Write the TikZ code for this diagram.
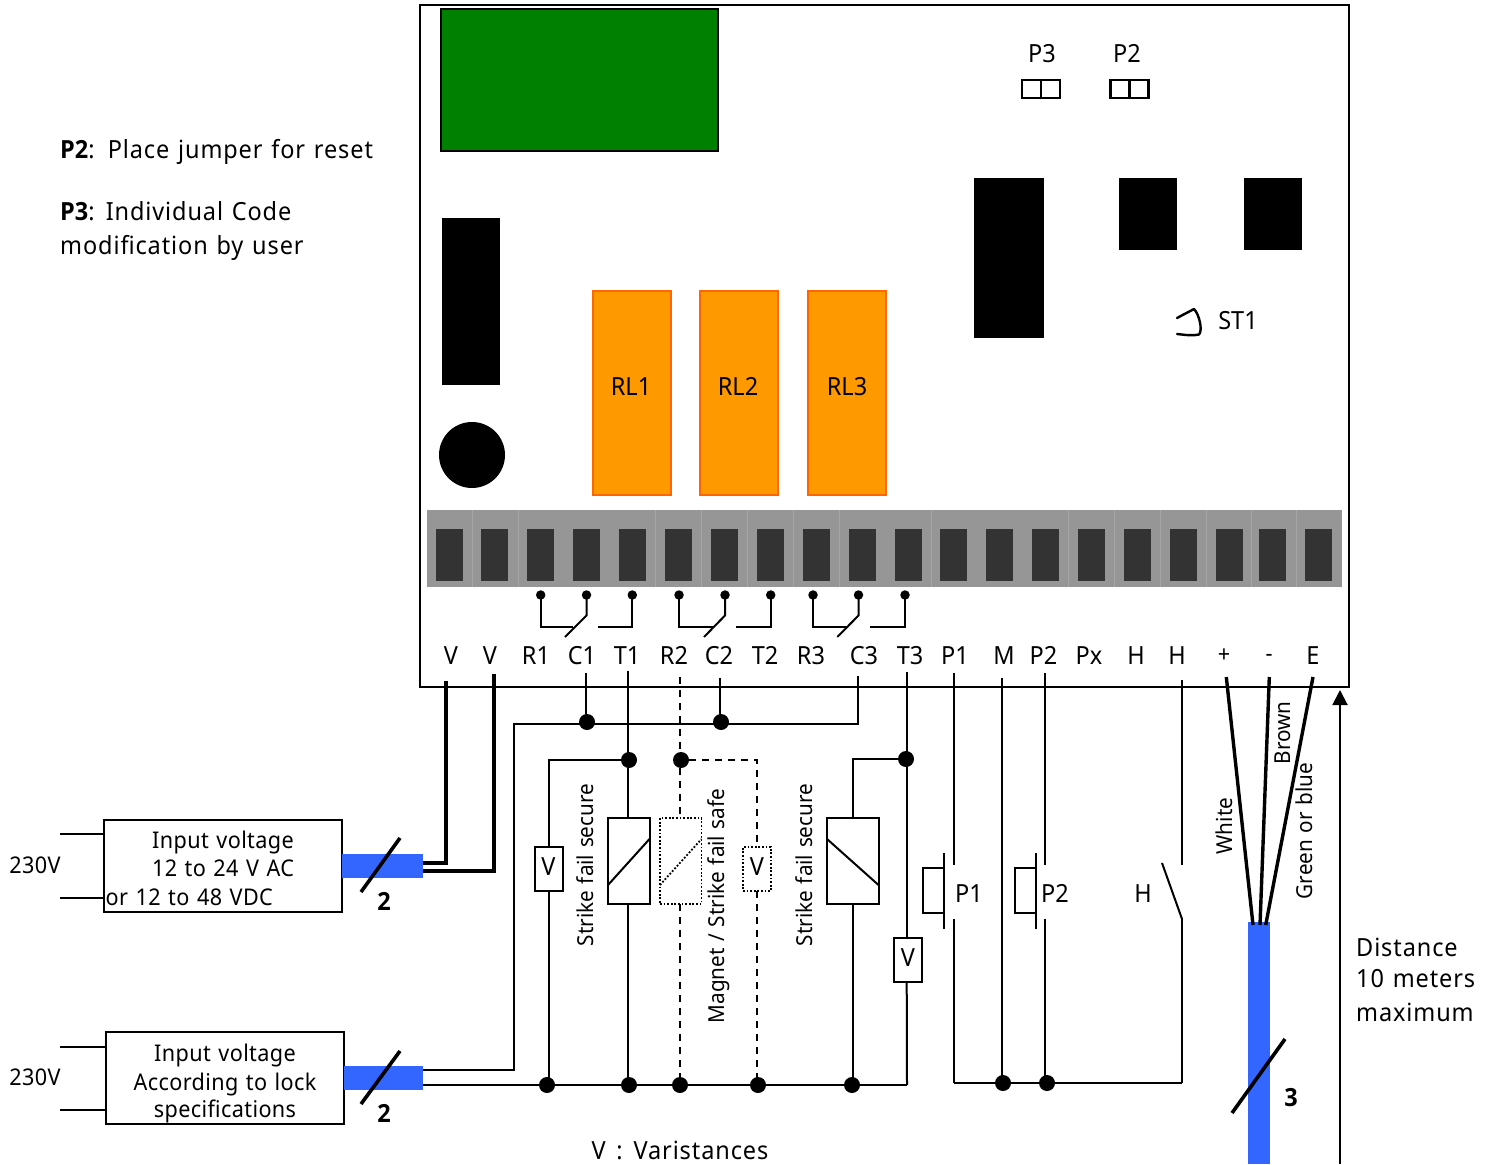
\documentclass[tikz,border=0pt]{standalone}
\usepackage{fontspec}
\setmainfont{Noto Sans}[FakeStretch=0.94,WordSpace=1.25]
\newfontfamily\widefont{Noto Sans}[FakeStretch=0.94,WordSpace=1.25,LetterSpace=3.6]
\newfontfamily\midfont{Noto Sans}[FakeStretch=0.94,WordSpace=1.25,LetterSpace=1.7]
\newfontfamily\boldfont{Open Sans}[FakeStretch=0.94,WordSpace=1.25]
\usetikzlibrary{arrows.meta}
\definecolor{cable}{HTML}{3366FF}
\definecolor{relay}{HTML}{FF9900}
\definecolor{relayedge}{HTML}{FF6600}
\definecolor{boardgreen}{HTML}{008000}
\definecolor{stripgray}{HTML}{969696}
\definecolor{stripsep}{HTML}{A6A6A6}
\definecolor{termdark}{HTML}{333333}
\newcommand{\bx}[6][]{\node[rectangle,inner sep=0pt,outer sep=0pt,minimum width={(#5-#3)*1pt},minimum height={(#6-#4)*1pt},#1] (#2) at ({(#3+#5)/2},{(#4+#6)/2}) {};}
\newcommand{\bt}[7][]{\node[rectangle,inner sep=0pt,outer sep=0pt,minimum width={(#5-#3)*1pt},minimum height={(#6-#4)*1pt},#1] (#2) at ({(#3+#5)/2},{(#4+#6)/2}) {#7};}
\tikzset{
  wire/.style={line width=2pt},
  thickwire/.style={line width=3.4pt},
  dashwire/.style={line width=2pt,dash pattern=on 7pt off 6pt},
  frame/.style={draw=black,line width=2pt,fill=white},
  thinframe/.style={draw=black,line width=2pt},
  jumperbox/.style={draw=black,line width=2.4pt},
  dotframe/.style={draw=black,line width=1.8pt,dash pattern=on 1.8pt off 1.8pt,fill=white},
  solidblock/.style={fill=black},
  relaybox/.style={fill=relay,draw=relayedge,line width=2pt},
  bluecable/.style={fill=cable},
  termbox/.style={fill=termdark},
  pindot/.style={circle,fill=black,inner sep=0pt,minimum size=9.5pt},
  junction/.style={circle,fill=black,inner sep=0pt,minimum size=16pt},
  lbl/.style={inner sep=0pt,anchor=base,font=\fontsize{25}{28}\selectfont},
  wide/.style={inner sep=0pt,font=\fontsize{25}{28}\selectfont\widefont},
  smalltxt/.style={inner sep=0pt,font=\fontsize{23}{26}\selectfont\midfont},
  rottxt/.style={inner sep=0pt,rotate=90,font=\fontsize{22}{25}\selectfont},
  counttxt/.style={inner sep=0pt,font=\fontsize{25}{28}\selectfont\boldfont\bfseries},
  slashline/.style={line width=3.6pt},
  vbox/.style={font=\fontsize{25}{28}\selectfont},
}
\newcommand{\varV}{\raisebox{4.5pt}{V}}
\begin{document}
\begin{tikzpicture}[x=1pt,y=-1pt]
\useasboundingbox (0,0) rectangle (1490,1164);
% board
\bx[frame]{board}{419.5}{5}{1349}{687}
\bx[fill=boardgreen,draw=black,line width=2pt]{green}{441}{9.5}{718}{151}
\bx[solidblock]{blkA}{442}{218}{500}{385}
\node[circle,fill=black,inner sep=0pt,minimum size=66pt] (blkC) at (472,455) {};
\bx[solidblock]{blkB}{974}{178}{1044}{338}
\bx[solidblock]{blkD}{1119}{178}{1177}{250}
\bx[solidblock]{blkE}{1244}{178}{1302}{250}
\bx[relaybox]{rlA}{593}{291}{671}{495}
\bx[relaybox]{rlB}{700}{291}{778}{495}
\bx[relaybox]{rlC}{808}{291}{886}{495}
\node[lbl] (rlAt) at (631,395) {RL1};
\node[lbl] (rlBt) at (738,395) {RL2};
\node[lbl] (rlCt) at (847,395) {RL3};
% jumpers
\node[lbl] (lbP3) at (1042,62.5) {P3};
\node[lbl] (lbP2) at (1127,62.5) {P2};
\bx[jumperbox]{jpA}{1022}{80}{1041}{98}
\bx[jumperbox]{jpB}{1041}{80}{1060}{98}
\bx[jumperbox]{jpC}{1110.5}{80}{1129.5}{98}
\bx[jumperbox]{jpD}{1129.5}{80}{1148.5}{98}
\coordinate (stA) at (1177,318);
\coordinate (stB) at (1194,309);
\coordinate (stC) at (1199,334.5);
\coordinate (stD) at (1177,334);
\draw[line width=2.4pt,line cap=round,line join=round] (stA) -- (stB) .. controls (1199,314) and (1203,330) .. (stC) .. controls (1193,336) and (1186,335) .. (stD);
\node[lbl] (lbST) at (1238,329) {ST1};
% terminal strip
\bx[fill=stripgray]{strip}{427}{510}{1342}{587}
\foreach \x in {472.3,518.3,655.7,701.7,747.3,793.3,839.3,931.3,1068,1114.3,1160.3,1206.3,1251,1296.3}
  \draw[stripsep,line width=0.9pt] (\x,510) -- (\x,587);
\foreach \n/\x in {a/449,b/494.7,c/540.7,d/586.5,e/632.3,f/678,g/724,h/770,i/816,j/862,k/908,l/953.5,m/999.3,n/1045.3,o/1091.3,p/1137,q/1183,r/1229,s/1272.7,t/1318.3}
  \node[termbox,rectangle,inner sep=0pt,minimum width=27pt,minimum height=52pt] (tm\n) at (\x,555) {};
% relay contacts
\foreach \nm/\xa/\xb/\xc/\xd/\xe/\xf in {A/540.7/573/565/586.5/597.7/632.3,B/679/713/704/725/736/770.7,C/813/847/837.3/858.5/870/905}{
  \node[pindot] (pr\nm) at (\xa,595) {};
  \node[pindot] (pc\nm) at (\xd,595) {};
  \node[pindot] (pt\nm) at (\xf,595) {};
  \coordinate (rk\nm) at (\xb,627);
  \coordinate (sl\nm) at (\xc,637);
  \coordinate (su\nm) at (\xd,615.5);
  \coordinate (tk\nm) at (\xe,627);
  \draw[wire] (pr\nm.center) |- (rk\nm);
  \draw[wire] (pc\nm.center) -- (su\nm) -- (sl\nm);
  \draw[wire] (pt\nm.center) |- (tk\nm);
}
% terminal labels
\foreach \n/\t/\x in {a/V/451,b/V/490,c/R1/536,d/C1/582,e/T1/627,f/R2/674,g/C2/719,h/T2/765,i/R3/811,j/C3/864,k/T3/910,l/P1/955,m/M/1004,n/P2/1043.5,o/Px/1089,p/H/1136,q/H/1177,t/E/1313}
  \node[lbl] (lb\n) at (\x,664) {\t};
\node[smalltxt] (lbr) at (1224,656) {+};
\node[smalltxt] (lbs) at (1269,658) {-};
% left text
\node[wide,anchor=base west] (noteA) at (60,158) {{\boldfont\bfseries P2}:\hspace{2pt} Place jumper for reset};
\node[wide,anchor=base west] (noteB) at (60,220) {{\boldfont\bfseries P3}: Individual Code};
\node[wide,anchor=base west] (noteC) at (60,254) {modification by user};
% supplies
\bx[thinframe]{psA}{104}{820}{342}{912}
\bx[thinframe]{psB}{105.5}{1032}{344}{1124}
\coordinate (inA) at (60,833.5); \coordinate (inB) at (60,898);
\coordinate (inC) at (60,1046.5); \coordinate (inD) at (60,1110);
\draw[wire] (inA) -- (inA -| psA.west);
\draw[wire] (inB) -- (inB -| psA.west);
\draw[wire] (inC) -- (inC -| psB.west);
\draw[wire] (inD) -- (inD -| psB.west);
\node[smalltxt] (vA) at (35,865) {230V};
\node[smalltxt] (vB) at (35,1077) {230V};
\node[smalltxt,anchor=base] (psAa) at (223,848) {Input voltage};
\node[smalltxt,anchor=base] (psAb) at (223,876.7) {12 to 24 V AC};
\node[smalltxt,anchor=base west] (psAc) at (105.5,905) {or 12 to 48 VDC};
\node[smalltxt,anchor=base] (psBa) at (225,1061.7) {Input voltage};
\node[smalltxt,anchor=base] (psBb) at (225,1090) {According to lock};
\node[smalltxt,anchor=base] (psBc) at (225,1117) {specifications};
% cables
\bx[bluecable]{cabA}{342}{854}{423}{878}
\bx[bluecable]{cabB}{344}{1066}{423}{1090}
\bx[bluecable]{cabC}{1248}{922}{1270}{1164}
\coordinate (sAa) at (361,892); \coordinate (sAb) at (400,838);
\coordinate (sBa) at (361,1104); \coordinate (sBb) at (400,1051);
\coordinate (sCa) at (1232,1113); \coordinate (sCb) at (1285,1039);
\draw[slashline] (sAa) -- (sAb);
\draw[slashline] (sBa) -- (sBb);
\draw[slashline] (sCa) -- (sCb);
\node[counttxt] (nA) at (384,901) {2};
\node[counttxt] (nB) at (384,1113) {2};
\node[counttxt] (nC) at (1291,1098) {3};
% V wires
\coordinate (vTa) at (446,681); \coordinate (vEa) at (423,863);
\coordinate (vTb) at (494,674); \coordinate (vEb) at (423,871);
\draw[thickwire] (vTa) |- (vEa);
\draw[thickwire] (vTb) |- (vEb);
% common C bus
\node[junction] (jC1) at (587,722) {};
\node[junction] (jC2) at (721,722) {};
\coordinate (tC1) at (586,673); \coordinate (tC2) at (719.5,678); \coordinate (tC3) at (858,676);
\coordinate (busR) at (858,723.5); \coordinate (busL) at (514,723.5); \coordinate (busE) at (423,1070);
\draw[wire] (tC1) -- (tC1 |- jC1);
\draw[wire] (tC2) -- (tC2 |- jC2);
\draw[wire] (tC3) -- (busR) -- (busL) |- (busE);
% bottom bus
\coordinate (botL) at (423,1085); \coordinate (botR) at (907,1085);
\node[junction] (bA) at (547,1085) {};
\node[junction] (bB) at (629,1085) {};
\node[junction] (bC) at (680,1085) {};
\node[junction] (bD) at (758,1085) {};
\node[junction] (bE) at (852,1085) {};
\draw[wire] (botL) -- (botR);
% T1 branch
\node[junction] (jT1) at (629,760) {};
\coordinate (tT1) at (628,671);
\bx[frame]{coilA}{608}{818}{649.5}{904}
\bt[frame,vbox]{varA}{534.5}{847}{562.5}{891}{\varV}
\coordinate (lkA) at (549,761);
\draw[wire] (tT1) -- (tT1 |- coilA.north);
\draw[wire] (tT1 |- coilA.south) -- (tT1 |- botL);
\draw[wire] (jT1) -- (jT1 -| lkA) -- (lkA |- varA.north);
\draw[wire] (lkA |- varA.south) -- (lkA |- botL);
\draw[line width=2pt] (coilA.west |- 0,885) -- (coilA.east |- 0,839);
% R2 dashed branch
\node[junction] (jR2) at (681,760) {};
\coordinate (tR2) at (680,677);
\bx[dotframe]{coilB}{660}{818}{701.5}{904}
\bt[dotframe,vbox]{varB}{743}{847}{771}{891}{\varV}
\coordinate (lkB) at (757,761);
\draw[dashwire] (tR2) -- (tR2 |- coilB.north);
\draw[dashwire] (tR2 |- coilB.south) -- (tR2 |- botL);
\draw[dashwire] (jR2) -- (jR2 -| lkB) -- (lkB |- varB.north);
\draw[dashwire] (lkB |- varB.south) -- (lkB |- botL);
\draw[line width=1.8pt,dash pattern=on 1.8pt off 1.8pt] (coilB.west |- 0,885) -- (coilB.east |- 0,839);
% T3 branch
\node[junction] (jT3) at (906,759) {};
\coordinate (tT3) at (906.7,672);
\bx[frame]{coilC}{827}{818}{878.5}{904}
\bt[frame,vbox]{varC}{894}{938}{922}{982}{\varV}
\coordinate (lkC) at (853,758.5);
\draw[wire] (tT3) -- (tT3 |- varC.north);
\draw[wire] (tT3 |- varC.south) -- (botR);
\draw[wire] (jT3) -- (jT3 -| lkC) -- (lkC |- coilC.north);
\draw[wire] (lkC |- coilC.south) -- (lkC |- botL);
\draw[line width=2pt] (coilC.west |- 0,839) -- (coilC.east |- 0,885);
\node[rottxt] (rotA) at (585,865) {Strike fail secure};
\node[rottxt] (rotB) at (719,906) {Magnet / Strike fail safe};
\node[rottxt] (rotC) at (804,865) {Strike fail secure};
% push buttons and H
\coordinate (botP) at (954,1083); \coordinate (botH) at (1182,1083);
\node[junction] (mD) at (1003,1083) {};
\node[junction] (pD) at (1047,1083) {};
\draw[wire] (botP) -- (botH);
\coordinate (tP1) at (954,673); \coordinate (tM) at (1002,678); \coordinate (tP2) at (1045,673); \coordinate (tH) at (1182,680);
\coordinate (gapT) at (0,865); \coordinate (gapB) at (0,919);
\draw[wire] (tP1) -- (tP1 |- gapT);
\draw[wire] (tP1 |- gapB) -- (botP);
\draw[wire] (tM) -- (tM |- botP);
\draw[wire] (tP2) -- (tP2 |- gapT);
\draw[wire] (tP2 |- gapB) -- (tP2 |- botP);
\draw[wire] (tH) -- (tH |- gapT);
\draw[wire] (tH |- gapB) -- (botH);
\coordinate (swH) at (1162,863);
\draw[wire] (swH) -- (tH |- gapB);
\bx[thinframe]{btnA}{923}{868}{943.5}{913}
\bx[thinframe]{btnB}{1014.5}{868}{1035.5}{913}
\draw[wire] (943.5,853) -- (943.5,929);
\draw[wire] (1035.5,853) -- (1035.5,929);
\node[lbl] (lbbA) at (969,902) {P1};
\node[lbl] (lbbB) at (1055,902) {P2};
\node[lbl] (lbbC) at (1143,902) {H};
% cable wires
\coordinate (wPt) at (1226.3,677); \coordinate (wPb) at (1253,925);
\coordinate (wMt) at (1269.3,677); \coordinate (wMb) at (1260,925);
\coordinate (wEt) at (1313,677); \coordinate (wEb) at (1265.7,925);
\draw[thickwire] (wPt) -- (wPb);
\draw[thickwire] (wMt) -- (wMb);
\draw[thickwire] (wEt) -- (wEb);
\node[rottxt] (wWhite) at (1224,826) {White};
\node[rottxt] (wBrown) at (1283,733) {Brown};
\node[rottxt] (wGreen) at (1304,831) {Green or blue};
% distance arrow
\coordinate (arE) at (1340,1164); \coordinate (arT) at (1340,690);
\draw[wire,-{Triangle[length=15pt,width=15pt]}] (arE) -- (arT);
\node[wide,anchor=base west] (dA) at (1356,956) {Distance};
\node[wide,anchor=base west] (dB) at (1356,987) {10 meters};
\node[wide,anchor=base west] (dC) at (1356,1021) {maximum};
\node[wide] (varN) at (680,1150) {V\hspace{2pt} : \hspace{2pt}Varistances};
\end{tikzpicture}
\end{document}
